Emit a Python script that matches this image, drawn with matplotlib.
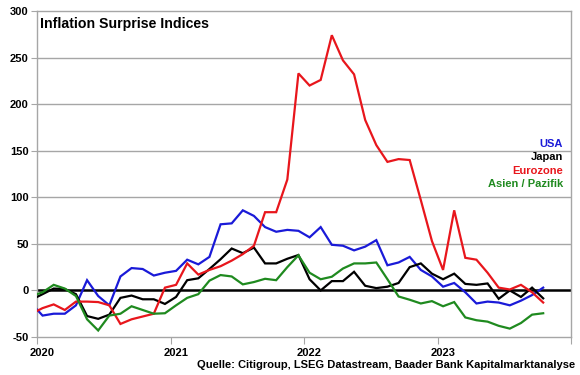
import matplotlib
matplotlib.use("Agg")
import matplotlib.pyplot as plt
import pandas as pd
import numpy as np

plt.rcParams['font.family'] = ['Liberation Sans', 'DejaVu Sans']

# Monthly observations, Dec 2019 .. Oct 2023
months = pd.period_range('2019-12', '2023-10', freq='M')

usa = [-14, -27, -25, -25, -16, 11, -6, -16, 15, 24, 23, 16, 19, 21, 33, 28, 36,
       71, 72, 86, 80, 68, 63, 65, 64, 57, 68, 49, 48, 43, 47, 54, 27, 30, 36,
       22, 15, 4, 8, -2, -14, -12, -13, -16, -11, -5, 3]
japan = [-10, -4, 2, 1.5, -4, -27.5, -30.5, -26, -8, -5.5, -9.5, -9.5, -14.5, -7,
         11, 13, 23, 33.5, 45, 40, 46, 29, 29, 34, 38, 12, 0, 10, 10, 20, 5, 2.5,
         4, 8, 25, 29, 18, 12, 18, 7, 6, 7.5, -9, 0, -7, 3, -8.5]
eurozone = [-25, -19, -15, -21, -12, -12, -12.5, -16, -36, -31, -28, -25, 3, 6, 29,
            17, 22, 26, 32, 39, 48, 84, 84, 119, 233, 220, 226, 274, 247, 232, 183,
            156, 138, 141, 140, 97, 53, 22, 86, 35, 33, 19, 3, 1, 6, -2, -13]
asia = [-6, -2, 6, 2, -6, -31, -43, -27, -25, -17, -21, -25, -24.5, -16, -8, -4,
        10.5, 16.5, 15, 6.5, 9, 12.5, 11, 25, 37.7, 19, 12, 14.7, 23.5, 29, 29, 30,
        12, -6.5, -10, -14, -11.5, -17, -12.5, -29, -32, -33.5, -38, -41, -35, -26,
        -24.5]

series_names = ['USA', 'Japan', 'Eurozone', 'Asien / Pazifik']
colors = ['#1a1ad8', '#000000', '#e8161c', '#1f8a1f']

years = [2020, 2021, 2022, 2023]
yticks = [-50, 0, 50, 100, 150, 200, 250, 300]

x = np.array([p.year + (p.month - 0.5) / 12 for p in months])

fig = plt.figure(figsize=(5.8, 3.75), dpi=100)
ax = fig.add_axes([37 / 580, 1 - 337 / 375, (571 - 37) / 580, (337 - 11) / 375])

grid_c = '#a6a6a6'
for yv in yticks[1:-1]:
    if yv != 0:
        ax.axhline(yv, color=grid_c, lw=1.0, zorder=1)
ax.axhline(0, color='black', lw=1.8, zorder=2)

data = [usa, japan, eurozone, asia]
order = [3, 1, 2, 0]
for i in order:
    ax.plot(x, data[i], color=colors[i], lw=1.6, zorder=3 + i, clip_on=True,
            solid_joinstyle='miter')

ax.set_xlim(2020, 2024)
ax.set_ylim(-50, 300)
ax.set_yticks(yticks)
ax.set_yticklabels([str(v) for v in yticks], fontsize=8, fontweight='bold')
ax.set_xticks([2020, 2021, 2022, 2023, 2024])
ax.set_xticklabels([])
ax.set_xticks([yr + 0.5 / 12 for yr in years], minor=True)
ax.set_xticklabels([str(yr) for yr in years], minor=True, fontsize=8,
                   fontweight='bold')
ax.tick_params(axis='x', which='minor', length=0, pad=8)
ax.tick_params(axis='x', which='major', length=5, color=grid_c, direction='out')
ax.tick_params(axis='y', length=4, color=grid_c, direction='out', pad=2)
for s in ax.spines.values():
    s.set_color(grid_c)
    s.set_linewidth(1.0)

fig.text(40 / 580, 1 - 24 / 375, 'Inflation Surprise Indices',
         ha='left', va='center', fontsize=10.2, fontweight='bold')

leg_y = [144, 157, 171, 184]
for name, c, yy in zip(series_names, colors, leg_y):
    fig.text(563 / 580, 1 - yy / 375, name, ha='right', va='center', color=c,
             fontsize=8, fontweight='bold')

fig.text(575 / 580, 1 - 364.5 / 375,
         'Quelle: Citigroup, LSEG Datastream, Baader Bank Kapitalmarktanalyse',
         ha='right', va='center', fontsize=8, fontweight='bold')

fig.savefig('out.png', dpi=100)
